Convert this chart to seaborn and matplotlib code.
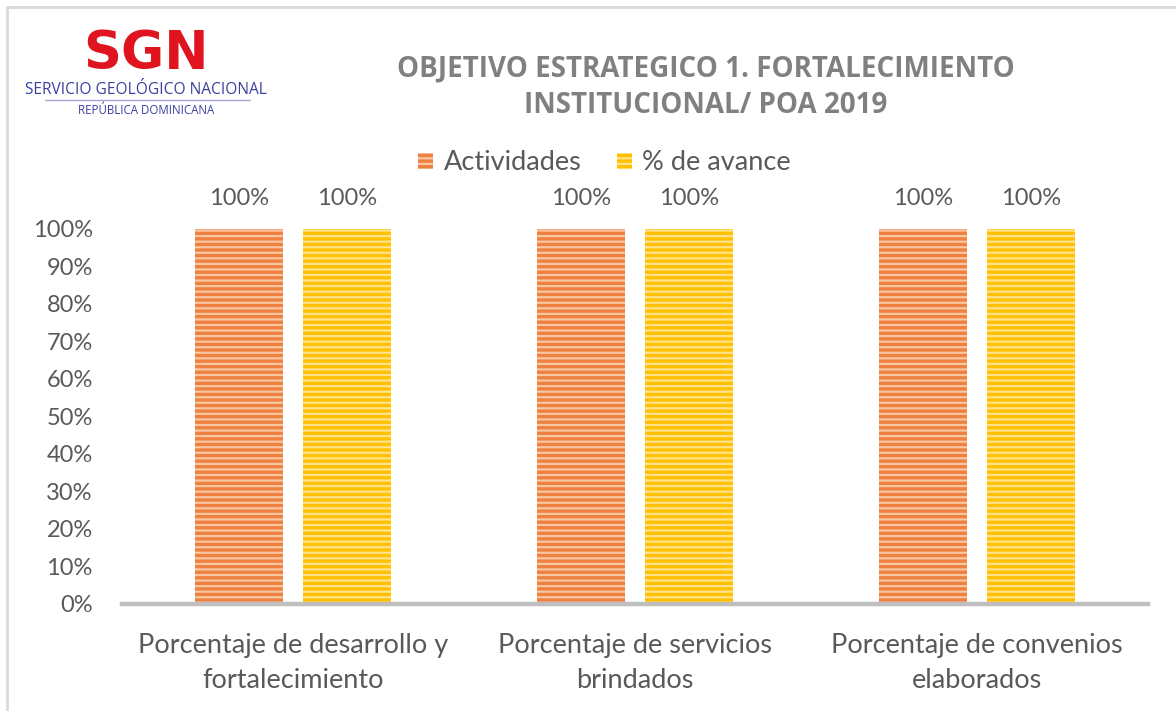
import pandas as pd
import seaborn as sns
import matplotlib.pyplot as plt
from matplotlib.lines import Line2D
from matplotlib.ticker import PercentFormatter

# chart data
categories = ["Porcentaje de desarrollo y\nfortalecimiento",
              "Porcentaje de servicios\nbrindados",
              "Porcentaje de convenios\nelaborados"]
series_names = ["Actividades", "% de avance"]
actividades = [1.0, 1.0, 1.0]
avance = [1.0, 1.0, 1.0]
y_ticks = [0, 0.1, 0.2, 0.3, 0.4, 0.5, 0.6, 0.7, 0.8, 0.9, 1.0]

df = pd.DataFrame({
    "categoria": categories * 2,
    "serie": [series_names[0]] * 3 + [series_names[1]] * 3,
    "valor": actividades + avance,
})

sns.set_theme(style="white")
plt.rcParams["font.family"] = ["Lato", "DejaVu Sans"]
plt.rcParams["hatch.linewidth"] = 1.6

text_grey = "#595959"
fill_cols = ["#EE8140", "#FFC000"]
stripe_cols = ["#F8C6A2", "#FFE38C"]

fig = plt.figure(figsize=(11.76, 7.11), dpi=100)
ax = fig.add_axes([0.1037, 0.1505, 0.8725, 0.5275])

sns.barplot(data=df, x="categoria", y="valor", hue="serie", hue_order=series_names,
            palette=fill_cols, saturation=1, width=0.63, gap=0.18, legend=False, ax=ax)

# striped bars
for cont, stripe in zip(ax.containers, stripe_cols):
    for bar in cont:
        bar.set_hatch("---")
        bar.set_edgecolor(stripe)
        bar.set_linewidth(0)

# labels on top
for cont, vals in zip(ax.containers, [actividades, avance]):
    ax.bar_label(cont, labels=[f"{v:.0%}" for v in vals], padding=14,
                 fontsize=17, color=text_grey)

ax.set_ylim(0, 1.0)
ax.set_xlim(-0.5, 2.5)
ax.set_yticks(y_ticks)
ax.yaxis.set_major_formatter(PercentFormatter(1.0, decimals=0))
ax.tick_params(axis="y", length=0, pad=21, labelsize=17, labelcolor=text_grey)
ax.tick_params(axis="x", length=0, pad=21, labelsize=19.5, labelcolor=text_grey)
for lab in ax.get_xticklabels():
    lab.set_linespacing(1.5)
ax.set_xlabel("")
ax.set_ylabel("")
for s in ["top", "right", "left"]:
    ax.spines[s].set_visible(False)
ax.spines["bottom"].set_color("#BFBFBF")
ax.spines["bottom"].set_linewidth(3.2)

ax.legend(ax.containers, series_names, loc="center", bbox_to_anchor=(0.514, 0.771),
          bbox_transform=fig.transFigure, ncol=2, frameon=False, fontsize=19.5,
          labelcolor=text_grey, handlelength=0.55, handleheight=0.55,
          handletextpad=0.4, columnspacing=1.3)

# title
fig.text(0.6, 0.903, "OBJETIVO ESTRATEGICO 1. FORTALECIMIENTO", ha="center", va="center",
         fontsize=20, fontweight="bold", color="#808080", family="Open Sans")
fig.text(0.6, 0.851, "INSTITUCIONAL/ POA 2019", ha="center", va="center",
         fontsize=20, fontweight="bold", color="#808080", family="Open Sans")

# logo
fig.text(0.124, 1 - 69 / 711, "SGN", ha="center", va="baseline", fontsize=38,
         fontweight="bold", color="#E0141E", family="DejaVu Sans")
fig.text(0.124, 1 - 90 / 711, "SERVICIO GEOLÓGICO NACIONAL", ha="center", va="center",
         fontsize=11.2, color="#3A3F9E", family="Open Sans")
fig.add_artist(Line2D([45 / 1176, 250 / 1176], [1 - 100 / 711, 1 - 100 / 711],
                      color="#A8A8D8", lw=1, transform=fig.transFigure))
fig.text(0.124, 1 - 111 / 711, "REPÚBLICA DOMINICANA", ha="center", va="center",
         fontsize=8.3, color="#3A3F9E", family="Open Sans")

# outer frame (only left and top edges show in the picture)
fig.add_artist(Line2D([7 / 1176, 7 / 1176, 1.0], [0.0, 1 - 7 / 711, 1 - 7 / 711],
                      color="#D9D9D9", lw=2, transform=fig.transFigure))

fig.savefig("out.png", dpi=100)
